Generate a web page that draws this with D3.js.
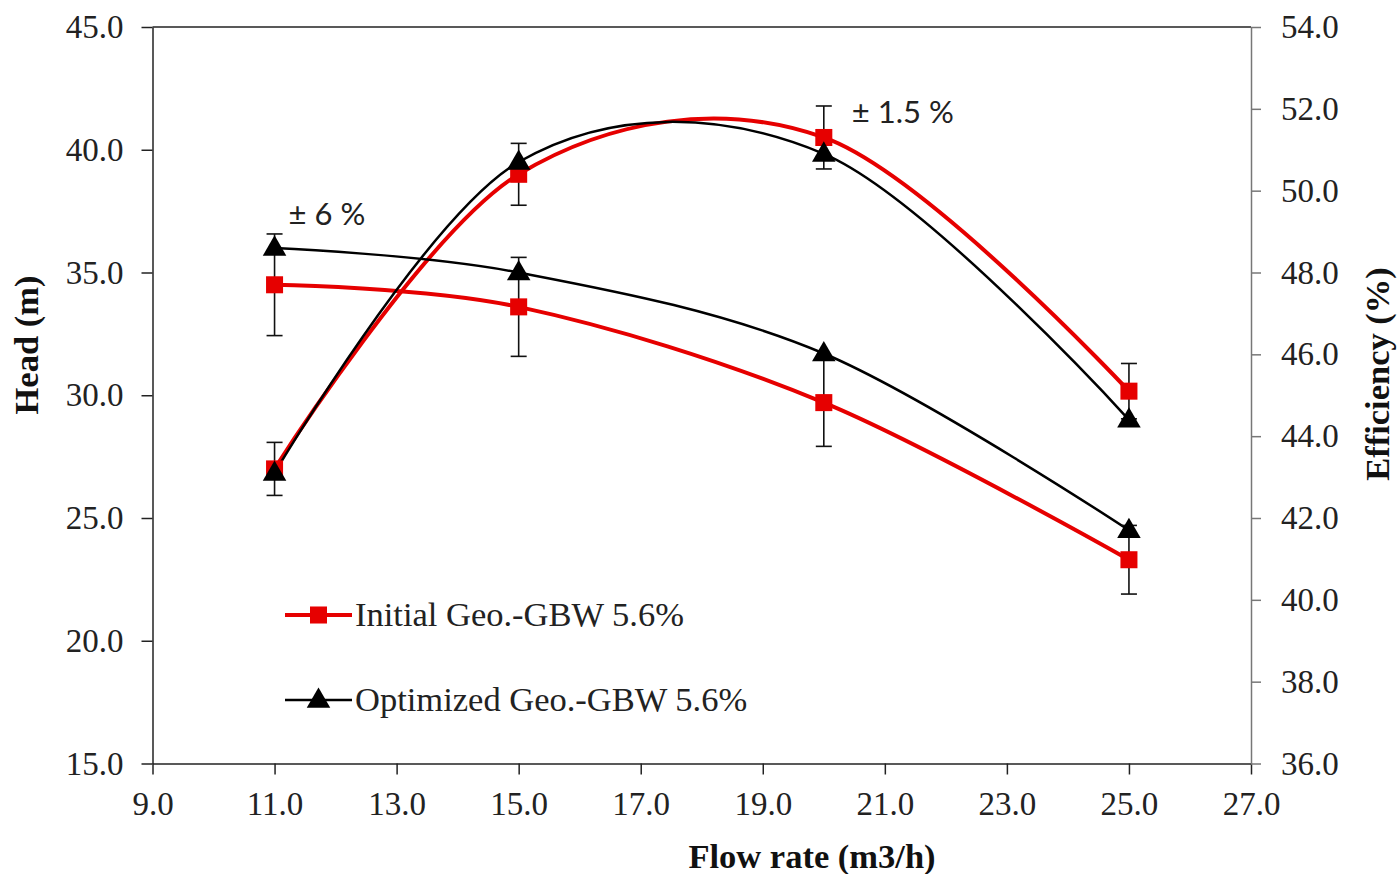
<!DOCTYPE html>
<html>
<head>
<meta charset="utf-8">
<script src="https://cdn.jsdelivr.net/npm/d3@7"></script>
<style>
  html, body { margin: 0; padding: 0; background: #fff; }
  svg { display: block; }
  .tick text { font-family: "Liberation Serif", "Times New Roman", serif; font-size: 33px; fill: #222; }
</style>
</head>
<body>
<svg id="chart" width="1398" height="874"></svg>
<script>
// Flow rate (m3/h) at each measured point
const flowRates = [11, 15, 20, 25];

// Head (m)
const headInitial   = [34.5, 33.6, 29.7, 23.3];
const headOptimized = [36.0, 35.0, 31.7, 24.5];

// Efficiency (%)
const effInitial   = [43.2, 50.4, 51.3, 45.1];
const effOptimized = [43.1, 50.7, 50.9, 44.4];

// Relative uncertainty drawn as error bars on the initial geometry
const headErrorPct = 6;
const effErrorPct = 1.5;

// Axis ticks
const xTicks = [9, 11, 13, 15, 17, 19, 21, 23, 25, 27];
const headTicks = [15, 20, 25, 30, 35, 40, 45];
const effTicks = [36, 38, 40, 42, 44, 46, 48, 50, 52, 54];

const seriesNames = ["Initial Geo.-GBW 5.6%", "Optimized Geo.-GBW 5.6%"];

const RED = "#e60000";
const BLACK = "#000";

const svg = d3.select("#chart");
const plot = { left: 152.5, right: 1251, top: 27, bottom: 763.5 };

const x = d3.scaleLinear().domain([9, 27]).range([plot.left, plot.right]);
const yHead = d3.scaleLinear().domain([15, 45]).range([plot.bottom, plot.top]);
const yEff = d3.scaleLinear().domain([36, 54]).range([plot.bottom, plot.top]);

// Top border of the plot area
svg.append("line")
  .attr("x1", plot.left).attr("x2", plot.right)
  .attr("y1", plot.top).attr("y2", plot.top)
  .attr("stroke", "#222").attr("stroke-width", 1.5);

// Axes
const fmt = d3.format(".1f");
const xAxis = svg.append("g")
  .attr("transform", `translate(0,${plot.bottom})`)
  .call(d3.axisBottom(x).tickValues(xTicks).tickFormat(fmt).tickSize(11).tickSizeOuter(0).tickPadding(16));
const leftAxis = svg.append("g")
  .attr("transform", `translate(${plot.left},0)`)
  .call(d3.axisLeft(yHead).tickValues(headTicks).tickFormat(fmt).tickSize(11).tickSizeOuter(0).tickPadding(18));
const rightAxis = svg.append("g")
  .attr("transform", `translate(${plot.right},0)`)
  .call(d3.axisRight(yEff).tickValues(effTicks).tickFormat(fmt).tickSize(10).tickSizeOuter(0).tickPadding(20));

[xAxis, leftAxis].forEach(g => {
  g.select(".domain").attr("stroke", "#222").attr("stroke-width", 1.5);
  g.selectAll(".tick line").attr("stroke", "#222").attr("stroke-width", 1.5);
});
rightAxis.select(".domain").attr("stroke", "#777").attr("stroke-width", 1.5);
rightAxis.selectAll(".tick line").attr("stroke", "#777").attr("stroke-width", 1.5);
xAxis.selectAll(".tick text").attr("dy", "0.75em");

// Axis titles
const titleStyle = sel => sel
  .attr("font-family", "'Liberation Serif', 'Times New Roman', serif")
  .attr("font-weight", "bold").attr("font-size", 34.5).attr("fill", "#111")
  .attr("text-anchor", "middle");

svg.append("text").call(titleStyle)
  .attr("x", 812).attr("y", 868)
  .text("Flow rate (m3/h)");
svg.append("text").call(titleStyle)
  .attr("transform", `translate(38,345) rotate(-90)`)
  .text("Head (m)");
svg.append("text").call(titleStyle)
  .attr("transform", `translate(1389,374) rotate(-90)`)
  .text("Efficiency (%)");

// Curves, error bars, markers
const line = yScale => d3.line()
  .x(d => x(d[0])).y(d => yScale(d[1]))
  .curve(d3.curveCardinal.tension(0));

const series = [
  { values: headInitial,   y: yHead, color: RED,   width: 4,   marker: "square",   err: headErrorPct },
  { values: effInitial,    y: yEff,  color: RED,   width: 4,   marker: "square",   err: effErrorPct },
  { values: headOptimized, y: yHead, color: BLACK, width: 2.5, marker: "triangle", err: null },
  { values: effOptimized,  y: yEff,  color: BLACK, width: 2.5, marker: "triangle", err: null }
];

const squareSym = d3.symbol().type(d3.symbolSquare).size(290);
const triangleSym = d3.symbol().type(d3.symbolTriangle).size(240);

series.forEach(s => {
  const pts = flowRates.map((f, i) => [f, s.values[i]]);
  svg.append("path")
    .attr("d", line(s.y)(pts))
    .attr("fill", "none").attr("stroke", s.color)
    .attr("stroke-width", s.width).attr("stroke-linejoin", "round");
});

// Error bars (behind markers)
series.filter(s => s.err).forEach(s => {
  const g = svg.append("g").attr("stroke", "#111").attr("stroke-width", 1.6);
  flowRates.forEach((f, i) => {
    const v = s.values[i], e = v * s.err / 100;
    const cx = x(f), y1 = s.y(v + e), y2 = s.y(v - e);
    g.append("line").attr("x1", cx).attr("x2", cx).attr("y1", y1).attr("y2", y2);
    g.append("line").attr("x1", cx - 8).attr("x2", cx + 8).attr("y1", y1).attr("y2", y1);
    g.append("line").attr("x1", cx - 8).attr("x2", cx + 8).attr("y1", y2).attr("y2", y2);
  });
});

series.forEach(s => {
  flowRates.forEach((f, i) => {
    svg.append("path")
      .attr("d", s.marker === "square" ? squareSym() : triangleSym())
      .attr("transform", `translate(${x(f)},${s.y(s.values[i]) + (s.marker === "triangle" ? 1 : 0)})`)
      .attr("fill", s.color);
  });
});

// Uncertainty annotations
const noteStyle = sel => sel
  .attr("font-family", "Lato, 'Open Sans', sans-serif")
  .attr("font-size", 31).attr("fill", "#222");
svg.append("text").call(noteStyle)
  .attr("x", x(11) + 14).attr("y", yHead(headInitial[0] + headInitial[0] * headErrorPct / 100) - 9)
  .text("± 6 %");
svg.append("text").call(noteStyle)
  .attr("x", x(20) + 28).attr("y", yEff(effInitial[2] + effInitial[2] * effErrorPct / 100) + 17)
  .text("± 1.5 %");

// Legend
const legend = svg.append("g");
const legendItems = [
  { name: seriesNames[0], color: RED,   width: 4,   marker: "square",   y: 615 },
  { name: seriesNames[1], color: BLACK, width: 2.5, marker: "triangle", y: 700 }
];
legendItems.forEach(d => {
  legend.append("line")
    .attr("x1", 285).attr("x2", 352).attr("y1", d.y).attr("y2", d.y)
    .attr("stroke", d.color).attr("stroke-width", d.width);
  legend.append("path")
    .attr("d", d.marker === "square" ? squareSym() : triangleSym())
    .attr("transform", `translate(318.5,${d.y + (d.marker === "triangle" ? 1 : 0)})`)
    .attr("fill", d.color);
  legend.append("text")
    .attr("x", 355).attr("y", d.y + 11)
    .attr("font-family", "'Liberation Serif', 'Times New Roman', serif")
    .attr("font-size", 34.5).attr("fill", "#222")
    .text(d.name);
});
</script>
</body>
</html>
